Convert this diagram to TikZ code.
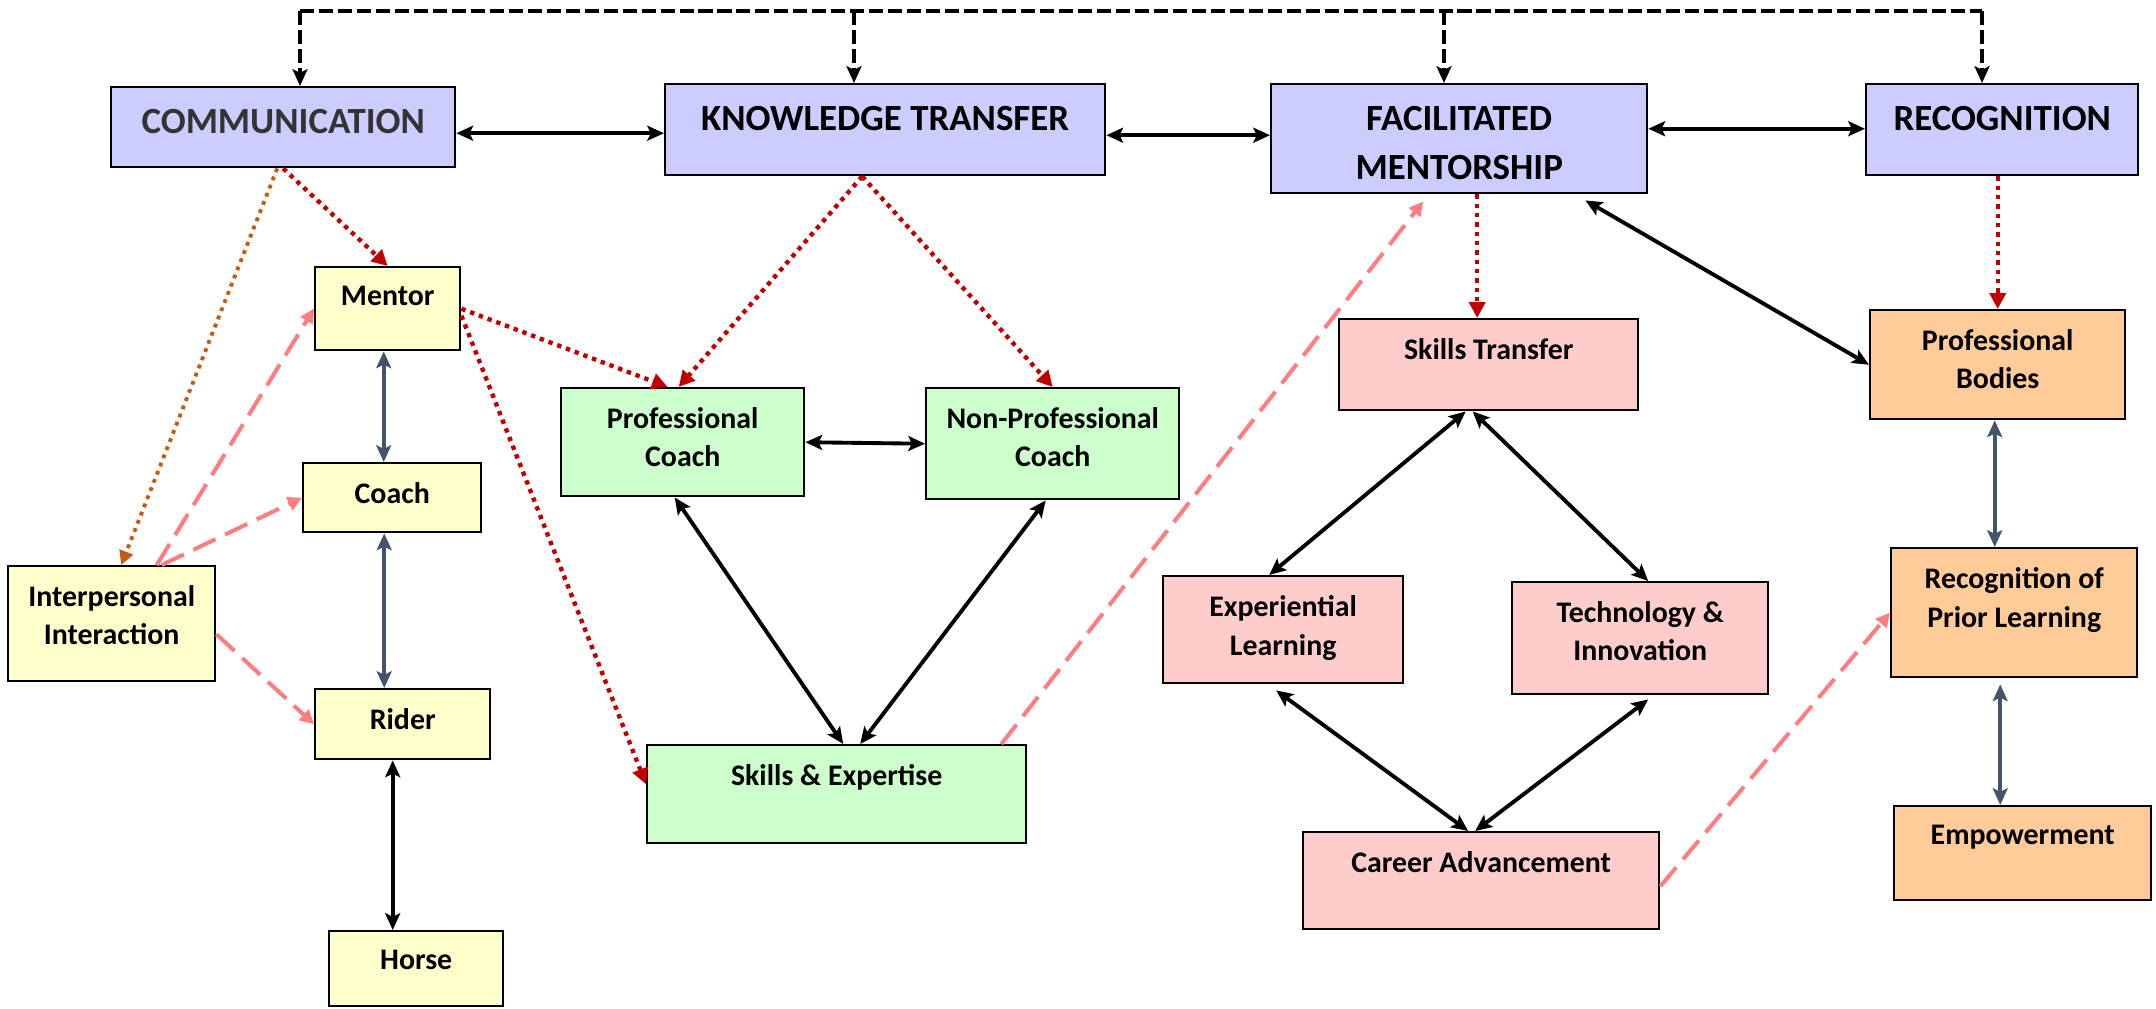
\documentclass[tikz,border=0pt]{standalone}
\usepackage{fontspec}
\setmainfont{Carlito}
\usepackage{tikz}
\usetikzlibrary{arrows.meta}
\usepackage{xcolor}

\definecolor{blu}{HTML}{CCCCFF}
\definecolor{yel}{HTML}{FFFFCC}
\definecolor{grn}{HTML}{CCFFCC}
\definecolor{pnk}{HTML}{FFCCCC}
\definecolor{org}{HTML}{FFCC99}
\definecolor{redline}{HTML}{C00000}
\definecolor{rust}{HTML}{C55A11}
\definecolor{pinkline}{HTML}{FF7C80}
\definecolor{slate}{HTML}{44546A}

\tikzset{
  box/.style={draw, line width=1.4pt, anchor=north west, inner sep=0pt},
  head/.style={anchor=north, yshift=-0.46cm, inner sep=0pt, align=center, font=\fontsize{21}{28}\selectfont\bfseries},
  txt/.style={anchor=north, yshift=-0.4cm, inner sep=0pt, align=center, font=\fontsize{17}{22}\selectfont\bfseries},
  bus/.style={line width=2pt, dash pattern=on 8pt off 2.8pt},
  both/.style={<->, line width=2.2pt},
  slatearr/.style={<->, slate, line width=2.2pt},
  reddot/.style={redline, line width=2.5pt, dash pattern=on 2.5pt off 2.8pt, -{Triangle[length=9pt,width=9pt]}},
  rustdot/.style={rust, line width=2.2pt, dash pattern=on 2.2pt off 2.8pt, -{Triangle[length=8pt,width=8pt]}},
  pinkdash/.style={pinkline, line width=2.3pt, dash pattern=on 14pt off 6pt, -{Triangle[length=8pt,width=8pt]}},
}

\begin{document}
\begin{tikzpicture}[x=0.02cm, y=-0.02cm, >={Stealth[length=9.5pt,width=8.5pt,inset=2pt]}]
\useasboundingbox (0,0) rectangle (2156,1008);

\node[box, fill=blu, minimum width=6.88cm, minimum height=1.6cm, label={[head, text=black!80]north:COMMUNICATION}] (comm) at (110,86) {};
\node[box, fill=blu, minimum width=8.8cm, minimum height=1.82cm, label={[head]north:KNOWLEDGE TRANSFER}] (know) at (664,83) {};
\node[box, fill=blu, minimum width=7.52cm, minimum height=2.18cm, label={[head]north:FACILITATED\\MENTORSHIP}] (facil) at (1270,83) {};
\node[box, fill=blu, minimum width=5.44cm, minimum height=1.82cm, label={[head]north:RECOGNITION}] (recog) at (1865,83) {};

\node[box, fill=yel, minimum width=2.9cm, minimum height=1.66cm, label={[txt]north:Mentor}] (mentor) at (314,266) {};
\node[box, fill=yel, minimum width=3.56cm, minimum height=1.38cm, label={[txt]north:Coach}] (coach) at (302,462) {};
\node[box, fill=yel, minimum width=4.14cm, minimum height=2.3cm, label={[txt]north:Interpersonal\\Interaction}] (inter) at (7,565) {};
\node[box, fill=yel, minimum width=3.5cm, minimum height=1.4cm, label={[txt]north:Rider}] (rider) at (314,688) {};
\node[box, fill=yel, minimum width=3.48cm, minimum height=1.5cm, label={[txt]north:Horse}] (horse) at (328,930) {};

\node[box, fill=grn, minimum width=4.86cm, minimum height=2.16cm, label={[txt]north:Professional\\Coach}] (procoach) at (560,387) {};
\node[box, fill=grn, minimum width=5.06cm, minimum height=2.22cm, label={[txt]north:Non-Professional\\Coach}] (nonpro) at (925,387) {};
\node[box, fill=grn, minimum width=7.58cm, minimum height=1.96cm, label={[txt]north:Skills \& Expertise}] (skexp) at (646,744) {};

\node[box, fill=pnk, minimum width=5.98cm, minimum height=1.82cm, label={[txt]north:Skills Transfer}] (sktrans) at (1338,318) {};
\node[box, fill=pnk, minimum width=4.8cm, minimum height=2.14cm, label={[txt]north:Experiential\\Learning}] (exper) at (1162,575) {};
\node[box, fill=pnk, minimum width=5.12cm, minimum height=2.24cm, label={[txt]north:Technology \&\\Innovation}] (techinn) at (1511,581) {};
\node[box, fill=pnk, minimum width=7.12cm, minimum height=1.94cm, label={[txt]north:Career Advancement}] (career) at (1302,831) {};

\node[box, fill=org, minimum width=5.1cm, minimum height=2.18cm, label={[txt]north:Professional\\Bodies}] (probod) at (1869,309) {};
\node[box, fill=org, minimum width=4.92cm, minimum height=2.58cm, label={[txt]north:Recognition of\\Prior Learning}] (rpl) at (1890,547) {};
\node[box, fill=org, minimum width=5.14cm, minimum height=1.88cm, label={[txt]north:Empowerment}] (empow) at (1893,805) {};

\foreach \n/\x in {comm/300,know/854,facil/1444,recog/1982}
  \coordinate (top\n) at (\x,11);
\draw[bus] (topcomm) -- (toprecog);
\foreach \n in {comm,know,facil,recog}
  \draw[bus,->] (top\n) -- (top\n |- \n.north);

\draw[both] ([yshift=-0.12cm]comm.east) -- ([yshift=-0.12cm]comm.east -| know.west);
\draw[both] ([yshift=-0.11cm]know.east) -- ([yshift=-0.11cm]know.east -| facil.west);
\draw[both] ([yshift=0.2cm]facil.east) -- ([yshift=0.2cm]facil.east -| recog.west);

\draw[reddot] (comm.south) -- (mentor.north);
\draw[reddot] ([xshift=-0.46cm]know.south) -- ([xshift=-0.08cm]procoach.north);
\draw[reddot] ([xshift=-0.46cm]know.south) -- (nonpro.north);
\draw[reddot] (mentor.east) -- ([xshift=-0.3cm]procoach.north);
\draw[reddot] ([yshift=-0.14cm]mentor.east) -- ([yshift=0.2cm]skexp.west);
\draw[reddot] ([xshift=0.36cm]facil.south) -- ([xshift=0.36cm]facil.south |- sktrans.north);
\draw[reddot] (recog.south -| probod.north) -- (probod.north);
\draw[rustdot] ([xshift=-0.12cm]comm.south) -- ([xshift=0.19cm]inter.north);

\draw[pinkdash] ([xshift=0.9cm]inter.north) -- (mentor.west);
\draw[pinkdash] ([xshift=1cm]inter.north) -- (coach.west);
\draw[pinkdash] ([yshift=-0.21cm]inter.east) -- (rider.west);
\draw[pinkdash] ([xshift=-0.52cm]skexp.north east) -- ([xshift=-0.72cm,yshift=-0.14cm]facil.south);
\draw[pinkdash] ([yshift=-0.11cm]career.east) -- (rpl.west);

\draw[slatearr] ([xshift=-0.08cm]mentor.south) -- ([xshift=-0.08cm]mentor.south |- coach.north);
\draw[slatearr] ([xshift=-0.16cm]coach.south) -- ([xshift=-0.16cm]coach.south |- rider.north);
\draw[both] ([xshift=-0.2cm]rider.south) -- ([xshift=-0.2cm]rider.south |- horse.north);
\draw[slatearr] ([xshift=-0.06cm]probod.south) -- ([xshift=-0.06cm]probod.south |- rpl.north);
\draw[slatearr] ([xshift=-0.28cm,yshift=-0.12cm]rpl.south) -- ([xshift=-0.28cm]rpl.south |- empow.north);

\draw[both] (procoach.east) -- (nonpro.west);
\draw[both] ([xshift=-0.16cm]procoach.south) -- ([xshift=0.13cm]skexp.north);
\draw[both] ([xshift=-0.14cm]nonpro.south) -- ([xshift=0.47cm]skexp.north);
\draw[both] ([xshift=-0.46cm]sktrans.south) -- ([xshift=-0.28cm]exper.north);
\draw[both] ([xshift=-0.32cm]sktrans.south) -- ([xshift=0.16cm]techinn.north);
\draw[both] ([xshift=-0.14cm,yshift=-0.12cm]exper.south) -- ([xshift=-0.26cm]career.north);
\draw[both] ([xshift=0.16cm,yshift=-0.08cm]techinn.south) -- ([xshift=-0.12cm]career.north);
\draw[both] ([xshift=-1.26cm,yshift=-0.12cm]facil.south east) -- (probod.west);
\end{tikzpicture}
\end{document}
